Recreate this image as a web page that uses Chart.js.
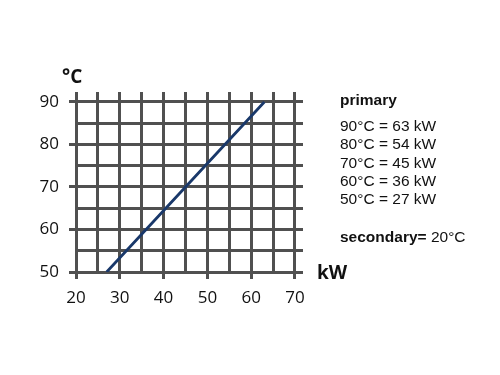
<!DOCTYPE html>
<html>
<head>
<meta charset="utf-8">
<script src="https://cdn.jsdelivr.net/npm/chart.js@4.4.1/dist/chart.umd.min.js"></script>
<style>
  html, body { margin: 0; padding: 0; background: #fff; }
  #wrap { position: relative; width: 500px; height: 375px; }
  .unit { position: absolute; font-family: 'Open Sans', sans-serif; font-weight: bold; font-size: 19px; color: #111; line-height: 20px; }
  #legend { position: absolute; left: 340px; top: 91px; font-family: 'Liberation Sans', Arial, sans-serif; font-size: 15.5px; color: #111; line-height: 18.2px; }
  #legend .b { font-weight: bold; }
</style>
</head>
<body>
<div id="wrap">
  <canvas id="grafico" width="500" height="375"></canvas>
  <div class="unit" style="left:62px; top:66px;">°C</div>
  <div class="unit" style="left:317px; top:262px;">kW</div>
  <div id="legend"></div>
</div>
<script>
// datos de la curva (potencia kW vs temperatura primaria °C)
const potencias = [27, 36, 45, 54, 63];
const temperaturas = [50, 60, 70, 80, 90];
const ticksX = [20, 25, 30, 35, 40, 45, 50, 55, 60, 65, 70];
const ticksY = [50, 55, 60, 65, 70, 75, 80, 85, 90];
const secundario = 20;

// leyenda de texto a la derecha
const legend = document.getElementById('legend');
let html = '<div class="b">primary</div><div style="height:8px"></div>';
for (let i = temperaturas.length - 1; i >= 0; i--) {
  html += `<div>${temperaturas[i]}°C = ${potencias[i]} kW</div>`;
}
html += `<div style="height:20px"></div><div><span class="b">secondary=</span> ${secundario}°C</div>`;
legend.innerHTML = html;

const gridColor = '#505050';
const esMayor = ctx => ctx.tick && ctx.tick.value % 10 === 0;

const ctx = document.getElementById('grafico').getContext('2d');
new Chart(ctx, {
  type: 'scatter',
  data: {
    datasets: [{
      data: potencias.map((p, i) => ({ x: p, y: temperaturas[i] })),
      showLine: true,
      borderColor: '#19386a',
      borderWidth: 2.8,
      pointRadius: 0,
      fill: false
    }]
  },
  options: {
    responsive: false,
    animation: false,
    layout: { padding: { top: 92, right: 197, left: 0, bottom: 0 } },
    plugins: { legend: { display: false }, tooltip: { enabled: false } },
    scales: {
      x: {
        type: 'linear',
        min: 20,
        max: 71.83,
        afterBuildTicks: scale => { scale.ticks = ticksX.map(v => ({ value: v })); },
        afterFit: scale => { scale.height = 103; },
        border: { display: false },
        grid: {
          color: gridColor,
          lineWidth: 3,
          tickLength: 7,
          tickColor: c => esMayor(c) ? gridColor : 'rgba(0,0,0,0)'
        },
        ticks: {
          autoSkip: false,
          maxRotation: 0,
          padding: 9,
          color: '#111',
          font: { family: 'Open Sans', size: 17 },
          callback: v => v % 10 === 0 ? v : ''
        }
      },
      y: {
        min: 50,
        max: 92.35,
        afterBuildTicks: scale => { scale.ticks = ticksY.map(v => ({ value: v })); },
        afterFit: scale => { scale.width = 76; },
        border: { display: false },
        grid: {
          color: gridColor,
          lineWidth: 3,
          tickLength: 7,
          tickColor: c => esMayor(c) ? gridColor : 'rgba(0,0,0,0)'
        },
        ticks: {
          autoSkip: false,
          padding: 10,
          color: '#111',
          font: { family: 'Open Sans', size: 17 },
          callback: v => v % 10 === 0 ? v : ''
        }
      }
    }
  }
});
</script>
</body>
</html>
